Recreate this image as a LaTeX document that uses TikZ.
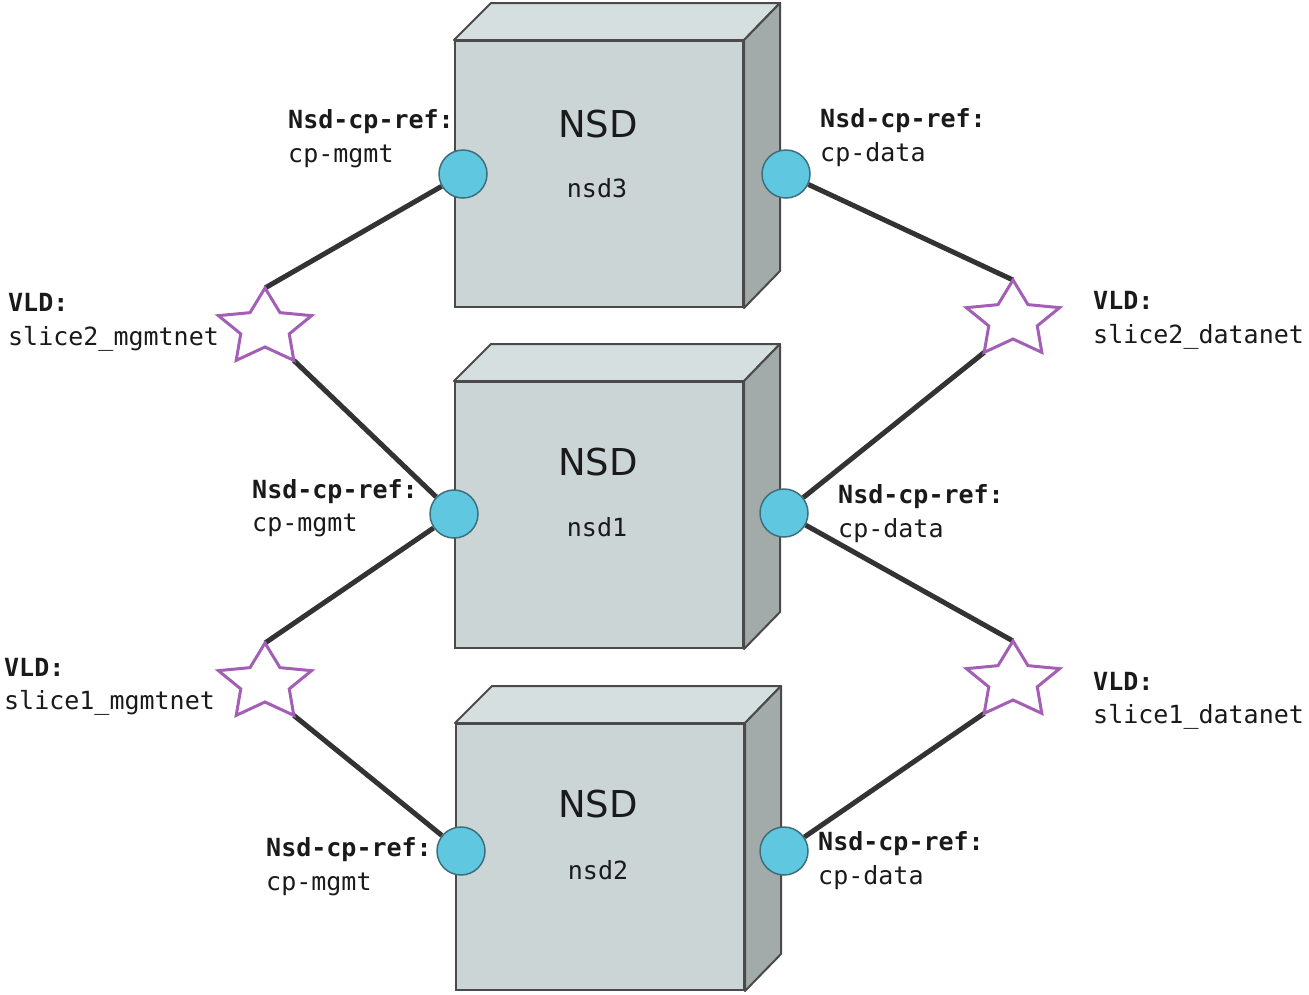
\documentclass[tikz,border=0pt]{standalone}
\usepackage{fontspec}
\setmainfont{DejaVu Sans}
\newfontfamily\monof{DejaVu Sans Mono}
\usetikzlibrary{calc}
\pgfdeclarelayer{bg}
\pgfsetlayers{bg,main}
\definecolor{frontc}{HTML}{CBD5D6}
\definecolor{topc}{HTML}{D6DFDF}
\definecolor{sidec}{HTML}{A3ABAA}
\definecolor{edgec}{HTML}{4A4A4A}
\definecolor{cpc}{HTML}{5FC8E0}
\definecolor{cpedge}{HTML}{3E6E7C}
\definecolor{starc}{HTML}{A35FB5}
\definecolor{linec}{HTML}{333333}
\definecolor{txtc}{HTML}{1A1A1A}
\tikzset{
  front/.style={draw=edgec, line width=2pt, fill=frontc, minimum width=288pt, minimum height=266pt, inner sep=0pt},
  face/.style={draw=edgec, line width=2pt, line join=round},
  cp/.style={circle, draw=cpedge, line width=1.5pt, fill=cpc, minimum size=48pt, inner sep=0pt},
  link/.style={draw=linec, line width=5pt},
  vstar/.style={draw=starc, line width=3pt, fill=white, line join=miter},
  lbl/.style={anchor=base west, inner sep=0pt, text=txtc, font=\monof\fontsize{25}{30}\selectfont},
  lblb/.style={lbl, font=\monof\bfseries\fontsize{25}{30}\selectfont},
  big/.style={anchor=base, inner sep=0pt, text=txtc, font=\fontsize{37}{40}\selectfont},
  small/.style={anchor=base, inner sep=0pt, text=txtc, font=\monof\fontsize{25}{30}\selectfont},
}
\newcommand\nsdcube[3]{% name, cx, cy
  \node[front] (#1) at (#2,#3) {};
  \path[face, fill=topc] (#1.north west) -- ++(37,-37) -- ($(#1.north east)+(36,-37)$) -- (#1.north east) -- cycle;
  \path[face, fill=sidec] (#1.north east) -- ++(36,-37) -- ($(#1.south east)+(36,-37)$) -- (#1.south east) -- cycle;
}
\newcommand\vldstar[3]{% name, cx, cy
  \coordinate (#1) at (#2,#3);
  \path[vstar] ($(#1)+(90:49 and -40)$)
    \foreach \k in {1,...,9}{ -- ($(#1)+({90+36*\k}:{ifthenelse(mod(\k,2)==0,49,25.5)} and {ifthenelse(mod(\k,2)==0,-40,-19)})$) } -- cycle;
  \coordinate (#1-top) at ($(#1)+(90:49 and -40)$);
  \coordinate (#1-bl) at ($(#1)+(234:49 and -40)$);
  \coordinate (#1-br) at ($(#1)+(306:49 and -40)$);
}
\begin{document}
\begin{tikzpicture}[x=1pt,y=-1pt]
\useasboundingbox (0,0) rectangle (1309,994);
% cubes
\nsdcube{n3}{599}{174}
\nsdcube{n1}{599}{515}
\nsdcube{n2}{600}{857}
% connection points
\node[cp] (c3l) at (463,174) {};
\node[cp] (c3r) at (786,174) {};
\node[cp] (c1l) at (454,514) {};
\node[cp] (c1r) at (784,513) {};
\node[cp] (c2l) at (461,851) {};
\node[cp] (c2r) at (784,851) {};
% stars
\vldstar{s2m}{265}{328}
\vldstar{s2d}{1013}{320}
\vldstar{s1m}{265}{683}
\vldstar{s1d}{1013}{681}
% links
\begin{pgfonlayer}{bg}
\draw[link] (s2m-top) -- (c3l);
\draw[link] (s2m-br) -- (c1l);
\draw[link] (s2d-top) -- (c3r);
\draw[link] (s2d-bl) -- (c1r);
\draw[link] (s1m-top) -- (c1l);
\draw[link] (s1m-br) -- (c2l);
\draw[link] (s1d-top) -- (c1r);
\draw[link] (s1d-bl) -- (c2r);
\end{pgfonlayer}
% cube texts
\node[big] (t3) at (598,137) {NSD};
\node[small] (u3) at (597,197) {nsd3};
\node[big] (t1) at (598,475) {NSD};
\node[small] (u1) at (597,536) {nsd1};
\node[big] (t2) at (598,817) {NSD};
\node[small] (u2) at (598,879) {nsd2};
% labels
\node[lblb] (a1) at (288,128) {Nsd-cp-ref:};
\node[lbl]  (a2) at (288,162) {cp-mgmt};
\node[lblb] (b1) at (820,127) {Nsd-cp-ref:};
\node[lbl]  (b2) at (820,161) {cp-data};
\node[lblb] (d1) at (8,311) {VLD:};
\node[lbl]  (d2) at (8,345) {slice2\_mgmtnet};
\node[lblb] (e1) at (1093,309) {VLD:};
\node[lbl]  (e2) at (1093,343) {slice2\_datanet};
\node[lblb] (f1) at (252,498) {Nsd-cp-ref:};
\node[lbl]  (f2) at (252,531) {cp-mgmt};
\node[lblb] (g1) at (838,503) {Nsd-cp-ref:};
\node[lbl]  (g2) at (838,537) {cp-data};
\node[lblb] (h1) at (4,676) {VLD:};
\node[lbl]  (h2) at (4,709) {slice1\_mgmtnet};
\node[lblb] (i1) at (1093,690) {VLD:};
\node[lbl]  (i2) at (1093,723) {slice1\_datanet};
\node[lblb] (j1) at (266,856) {Nsd-cp-ref:};
\node[lbl]  (j2) at (266,890) {cp-mgmt};
\node[lblb] (k1) at (818,850) {Nsd-cp-ref:};
\node[lbl]  (k2) at (818,884) {cp-data};
\end{tikzpicture}
\end{document}
